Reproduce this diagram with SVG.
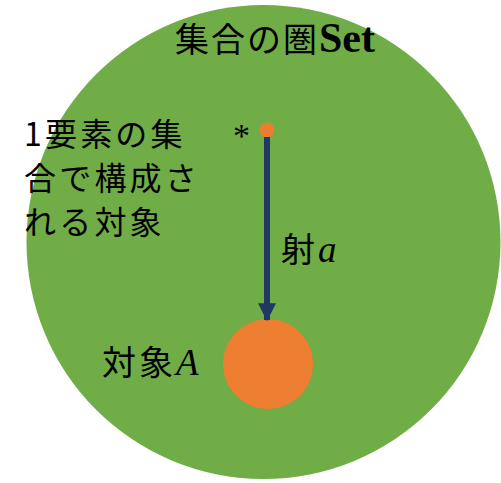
<svg xmlns="http://www.w3.org/2000/svg" width="501" height="483" viewBox="0 0 501 483">
<style>
.t{font-family:"Noto Sans CJK JP","Noto Sans",sans-serif;fill:#000}
.m{font-family:"Liberation Serif","DejaVu Serif",serif;font-style:italic;font-size:37px}
</style>
<defs>
<marker id="ah" markerWidth="3" markerHeight="3" refX="2.8" refY="1.5" orient="auto" markerUnits="strokeWidth" viewBox="0 0 3 3">
<path d="M0,0 L3,1.5 L0,3 Z" fill="#203864"/>
</marker>
</defs>
<rect width="501" height="483" fill="#fff"/>
<g id="set">
<circle cx="263.5" cy="242" r="237" fill="#70AD47"/>
<text x="175" y="52" class="t" font-size="34" letter-spacing="2">集合の圏<tspan font-family="Liberation Serif,serif" font-weight="bold" font-size="42" letter-spacing="0">Set</tspan></text>
</g>
<g id="one">
<circle cx="267" cy="130" r="7.5" fill="#ED7D31"/>
<text x="233" y="147" font-family="Liberation Serif,serif" font-size="34">*</text>
<text class="t" font-size="32" letter-spacing="3.2"><tspan x="24" y="146">1要素の集</tspan><tspan x="24" y="190">合で構成さ</tspan><tspan x="24" y="234">れる対象</tspan></text>
</g>
<g id="A">
<circle cx="268" cy="364" r="45" fill="#ED7D31"/>
<text x="102" y="375" class="t" font-size="34" letter-spacing="3">対象<tspan class="m" letter-spacing="0">A</tspan></text>
</g>
<g id="connectors">
<line x1="267" y1="137" x2="267" y2="320" stroke="#203864" stroke-width="6" marker-end="url(#ah)"/>
<text x="281" y="262" class="t" font-size="34" letter-spacing="3">射<tspan class="m" letter-spacing="0">a</tspan></text>
</g>
</svg>
